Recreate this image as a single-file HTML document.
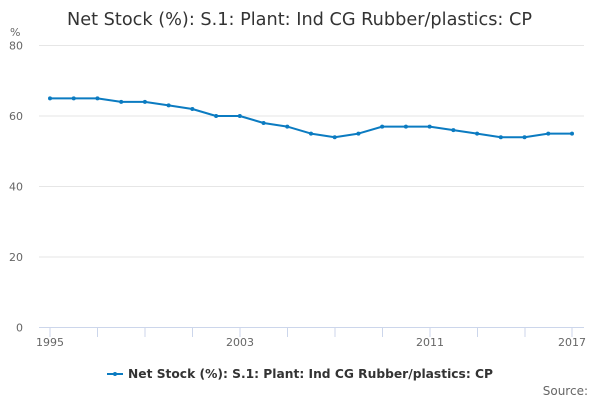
<!DOCTYPE html>
<html><head><meta charset="utf-8"><style>
html,body{margin:0;padding:0;background:#fff;}
svg{display:block;font-family:"DejaVu Sans","Liberation Sans",sans-serif;}
</style></head><body>
<svg width="600" height="400" viewBox="0 0 600 400" xmlns="http://www.w3.org/2000/svg">
<rect width="600" height="400" fill="#fff"/>
<text x="67" y="25" font-size="17.7" fill="#333" textLength="465" lengthAdjust="spacingAndGlyphs">Net Stock (%): S.1: Plant: Ind CG Rubber/plastics: CP</text>
<text x="10" y="36" font-size="11" fill="#666">%</text>
<g stroke="#e6e6e6" stroke-width="1">
<line x1="39" x2="584" y1="45.5" y2="45.5"/>
<line x1="39" x2="584" y1="116" y2="116"/>
<line x1="39" x2="584" y1="186.5" y2="186.5"/>
<line x1="39" x2="584" y1="257" y2="257"/>
</g>
<line x1="39" x2="584" y1="327.5" y2="327.5" stroke="#ccd6eb" stroke-width="1"/>
<g stroke="#ccd6eb" stroke-width="1">
<line x1="50" x2="50" y1="327.5" y2="337"/>
<line x1="97.5" x2="97.5" y1="327.5" y2="337"/>
<line x1="145" x2="145" y1="327.5" y2="337"/>
<line x1="192.5" x2="192.5" y1="327.5" y2="337"/>
<line x1="240" x2="240" y1="327.5" y2="337"/>
<line x1="287.5" x2="287.5" y1="327.5" y2="337"/>
<line x1="335" x2="335" y1="327.5" y2="337"/>
<line x1="382.5" x2="382.5" y1="327.5" y2="337"/>
<line x1="430" x2="430" y1="327.5" y2="337"/>
<line x1="477.5" x2="477.5" y1="327.5" y2="337"/>
<line x1="525" x2="525" y1="327.5" y2="337"/>
<line x1="572" x2="572" y1="327.5" y2="337"/>
</g>
<g font-size="11" fill="#666" text-anchor="end">
<text x="23" y="49.5">80</text>
<text x="23" y="120">60</text>
<text x="23" y="190.5">40</text>
<text x="23" y="261">20</text>
<text x="23" y="331.5">0</text>
</g>
<g font-size="11" fill="#666" text-anchor="middle">
<text x="50" y="346">1995</text>
<text x="240" y="346">2003</text>
<text x="430" y="346">2011</text>
<text x="572" y="346">2017</text>
</g>
<polyline fill="none" stroke="#0b7bc1" stroke-width="2" stroke-linejoin="round" points="50,98.4 73.73,98.4 97.45,98.4 121.18,101.9 144.91,101.9 168.64,105.4 192.36,109 216.09,116 239.82,116 263.55,123 287.27,126.6 311,133.6 334.73,137.2 358.45,133.6 382.18,126.6 405.91,126.6 429.64,126.6 453.36,130.1 477.09,133.6 500.82,137.2 524.55,137.2 548.27,133.6 572,133.6"/>
<g fill="#0b7bc1">
<circle cx="50" cy="98.4" r="2"/><circle cx="73.73" cy="98.4" r="2"/><circle cx="97.45" cy="98.4" r="2"/><circle cx="121.18" cy="101.9" r="2"/><circle cx="144.91" cy="101.9" r="2"/><circle cx="168.64" cy="105.4" r="2"/><circle cx="192.36" cy="109" r="2"/><circle cx="216.09" cy="116" r="2"/><circle cx="239.82" cy="116" r="2"/><circle cx="263.55" cy="123" r="2"/><circle cx="287.27" cy="126.6" r="2"/><circle cx="311" cy="133.6" r="2"/><circle cx="334.73" cy="137.2" r="2"/><circle cx="358.45" cy="133.6" r="2"/><circle cx="382.18" cy="126.6" r="2"/><circle cx="405.91" cy="126.6" r="2"/><circle cx="429.64" cy="126.6" r="2"/><circle cx="453.36" cy="130.1" r="2"/><circle cx="477.09" cy="133.6" r="2"/><circle cx="500.82" cy="137.2" r="2"/><circle cx="524.55" cy="137.2" r="2"/><circle cx="548.27" cy="133.6" r="2"/><circle cx="572" cy="133.6" r="2"/>
</g>
<line x1="107" x2="123" y1="374" y2="374" stroke="#0b7bc1" stroke-width="2"/>
<circle cx="115" cy="374" r="2" fill="#0b7bc1"/>
<text x="128" y="378" font-size="12.3" font-weight="bold" fill="#333" textLength="365" lengthAdjust="spacingAndGlyphs">Net Stock (%): S.1: Plant: Ind CG Rubber/plastics: CP</text>
<text x="588" y="395" font-size="12" fill="#666" text-anchor="end">Source:</text>
</svg>
</body></html>
